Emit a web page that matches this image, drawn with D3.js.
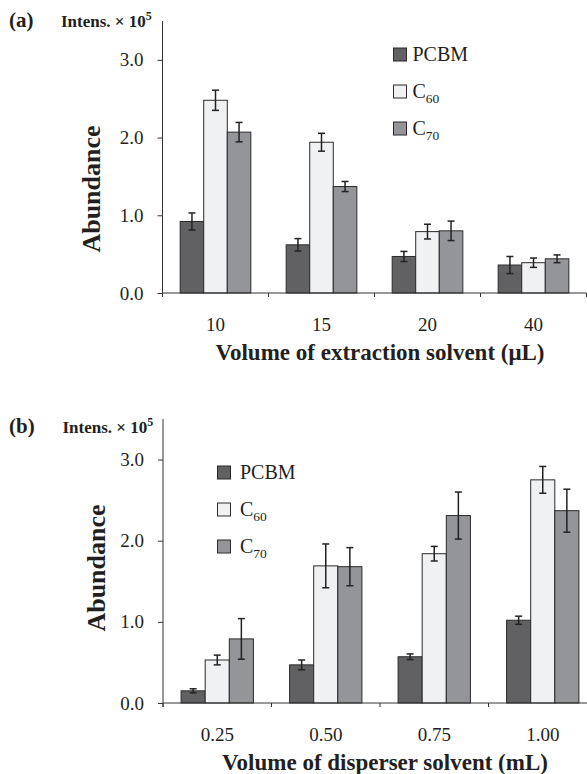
<!DOCTYPE html>
<html>
<head>
<meta charset="utf-8">
<script src="https://cdn.jsdelivr.net/npm/d3@7"></script>
<style>
    body { margin: 0; background: #fff; }
    text { font-family: "Liberation Serif", "Times New Roman", serif; fill: #231f20; }
</style>
</head>
<body>
<div id="chart"></div>
<script>

// series shared by both panels
var seriesBase = ["PCBM", "C", "C"]
var seriesSub = ["", "60", "70"]
var seriesColors = ["#616163", "#f0f1f3", "#949598"]

// panel (a): volume of extraction solvent
var extractCats = ["10", "15", "20", "40"]
var extractPCBM = [0.92, 0.62, 0.47, 0.36]
var extractC60 = [2.48, 1.94, 0.79, 0.39]
var extractC70 = [2.07, 1.37, 0.80, 0.44]
var extractPCBMErr = [0.11, 0.08, 0.065, 0.11]
var extractC60Err = [0.13, 0.115, 0.095, 0.06]
var extractC70Err = [0.125, 0.065, 0.125, 0.05]

// panel (b): volume of disperser solvent
var disperserCats = ["0.25", "0.50", "0.75", "1.00"]
var disperserPCBM = [0.15, 0.47, 0.57, 1.02]
var disperserC60 = [0.53, 1.69, 1.84, 2.75]
var disperserC70 = [0.79, 1.68, 2.31, 2.37]
var disperserPCBMErr = [0.025, 0.06, 0.035, 0.05]
var disperserC60Err = [0.06, 0.27, 0.09, 0.165]
var disperserC70Err = [0.25, 0.235, 0.29, 0.265]

var yTicks = [0, 1, 2, 3]

var svg = d3.select("#chart")
    .append("svg")
    .attr("width", 587)
    .attr("height", 774)

function drawPanel(p) {

    var rows = p.cats.map((c, i) => ({
        cat: c,
        vals: [p.pcbm[i], p.c60[i], p.c70[i]],
        errs: [p.pcbmErr[i], p.c60Err[i], p.c70Err[i]]
    }))

    var x = d3.scaleBand()
        .domain(p.cats)
        .range([p.left, p.right])

    var xSeries = d3.scaleBand()
        .domain(d3.range(3))
        .range([x.bandwidth() / 6, x.bandwidth() * 5 / 6])

    var y = d3.scaleLinear()
        .domain([0, 3.5])
        .range([p.bottom, p.top])

    var g = svg.append("g")

    // y axis
    var yAxis = g.append("g")
        .attr("transform", `translate(${p.left}, 0)`)
        .call(d3.axisLeft(y).tickValues(yTicks).tickSize(5).tickPadding(14).tickFormat(d3.format(".1f")))
    yAxis.select(".domain").remove()
    yAxis.selectAll("line").attr("stroke", "#333")
    yAxis.selectAll("text")
        .attr("font-size", 19)
        .attr("font-family", "Liberation Serif")
        .attr("fill", "#231f20")

    g.append("line")
        .attr("x1", p.left).attr("x2", p.left)
        .attr("y1", y(3.5)).attr("y2", y(0) + 4)
        .attr("stroke", "#333")

    // bars
    var groups = g.selectAll(".cat")
        .data(rows)
        .enter()
        .append("g")
        .attr("transform", d => `translate(${x(d.cat)}, 0)`)

    groups.selectAll("rect")
        .data(d => d.vals)
        .enter()
        .append("rect")
        .attr("x", (d, i) => xSeries(i))
        .attr("width", xSeries.bandwidth())
        .attr("y", d => y(d))
        .attr("height", d => y(0) - y(d))
        .attr("fill", (d, i) => seriesColors[i])
        .attr("stroke", "#2b2b2b")
        .attr("stroke-width", 1)

    // error bars
    var errs = groups.selectAll(".err")
        .data(d => d.vals.map((v, i) => ({ v: v, e: d.errs[i], i: i })))
        .enter()
        .append("g")
        .attr("stroke", "#222")
        .attr("stroke-width", 1.5)

    var cx = d => xSeries(d.i) + xSeries.bandwidth() / 2
    errs.append("line")
        .attr("x1", cx).attr("x2", cx)
        .attr("y1", d => y(d.v + d.e)).attr("y2", d => y(d.v - d.e))
    errs.append("line")
        .attr("x1", d => cx(d) - 3.5).attr("x2", d => cx(d) + 3.5)
        .attr("y1", d => y(d.v + d.e)).attr("y2", d => y(d.v + d.e))
    errs.append("line")
        .attr("x1", d => cx(d) - 3.5).attr("x2", d => cx(d) + 3.5)
        .attr("y1", d => y(d.v - d.e)).attr("y2", d => y(d.v - d.e))

    // x axis line with ticks at category borders
    g.append("line")
        .attr("x1", p.left).attr("x2", p.right)
        .attr("y1", y(0)).attr("y2", y(0))
        .attr("stroke", "#333")

    var borders = p.cats.map(c => x(c)).concat([p.right])
    g.selectAll(".border")
        .data(borders)
        .enter()
        .append("line")
        .attr("x1", d => d).attr("x2", d => d)
        .attr("y1", y(0)).attr("y2", y(0) + 4)
        .attr("stroke", "#333")

    var xAxis = g.append("g")
        .attr("transform", `translate(0, ${y(0)})`)
        .call(d3.axisBottom(x).tickSize(0))
    xAxis.select(".domain").remove()
    xAxis.selectAll("text")
        .attr("y", 38)
        .attr("dy", 0)
        .attr("font-size", 19)
        .attr("font-family", "Liberation Serif")
        .attr("fill", "#231f20")

    // legend
    var legend = g.selectAll(".legend")
        .data(seriesBase)
        .enter()
        .append("g")
        .attr("transform", (d, i) => `translate(${p.legendX}, ${p.legendY + i * 37})`)

    legend.append("rect")
        .attr("x", 0)
        .attr("y", -13)
        .attr("width", 13)
        .attr("height", 13)
        .attr("fill", (d, i) => seriesColors[i])
        .attr("stroke", "#2b2b2b")

    var legendText = legend.append("text")
        .attr("x", p.legendGap)
        .attr("y", 0)
        .attr("font-size", 20)
        .text(d => d)
    legendText.append("tspan")
        .attr("font-size", 13.5)
        .attr("dy", 4.5)
        .text((d, i) => seriesSub[i])

    // panel letter and unit
    g.append("text")
        .attr("x", 9)
        .attr("y", p.labelY)
        .attr("font-size", 21)
        .attr("font-weight", "bold")
        .text(p.letter)

    var unit = g.append("text")
        .attr("x", p.unitX)
        .attr("y", p.labelY - 0.5)
        .attr("font-size", 17)
        .attr("font-weight", "bold")
        .text("Intens. × 10")
    unit.append("tspan")
        .attr("font-size", 12)
        .attr("dy", -7)
        .text("5")

    // axis titles
    g.append("text")
        .attr("transform", `translate(${p.yTitleX}, ${p.yTitleY}) rotate(-90)`)
        .attr("text-anchor", "middle")
        .attr("font-size", 26)
        .attr("font-weight", "bold")
        .text("Abundance")

    g.append("text")
        .attr("x", p.xTitleX)
        .attr("y", y(0) + 67)
        .attr("text-anchor", "middle")
        .attr("font-size", 23)
        .attr("font-weight", "bold")
        .text(p.xTitle)
}

drawPanel({
    letter: "(a)",
    cats: extractCats,
    pcbm: extractPCBM, c60: extractC60, c70: extractC70,
    pcbmErr: extractPCBMErr, c60Err: extractC60Err, c70Err: extractC70Err,
    left: 162.5, right: 586.5, top: 21, bottom: 293,
    legendX: 393.5, legendY: 61, legendGap: 19,
    labelY: 27, unitX: 61,
    yTitleX: 100, yTitleY: 189,
    xTitleX: 380,
    xTitle: "Volume of extraction solvent (μL)"
})

drawPanel({
    letter: "(b)",
    cats: disperserCats,
    pcbm: disperserPCBM, c60: disperserC60, c70: disperserC70,
    pcbmErr: disperserPCBMErr, c60Err: disperserC60Err, c70Err: disperserC70Err,
    left: 163, right: 597, top: 419, bottom: 703,
    legendX: 217.5, legendY: 479, legendGap: 22.5,
    labelY: 433, unitX: 62.5,
    yTitleX: 105, yTitleY: 568,
    xTitleX: 385,
    xTitle: "Volume of disperser solvent (mL)"
})

</script>
</body>
</html>
